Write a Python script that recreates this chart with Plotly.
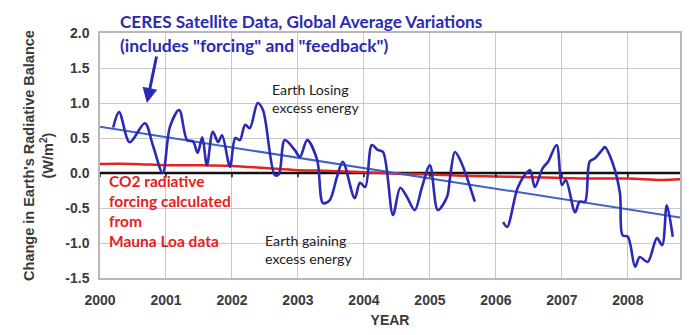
import plotly.graph_objects as go

# CERES satellite data (decimal year, W/m^2); None marks the data gap
ceres_year = [2000.20, 2000.29, 2000.45, 2000.68, 2000.80, 2000.95, 2001.06, 2001.20, 2001.32, 2001.41,
              2001.48, 2001.55, 2001.62, 2001.71, 2001.79, 2001.85, 2001.97, 2002.05, 2002.12, 2002.20,
              2002.27, 2002.39, 2002.47, 2002.65, 2002.71, 2002.80, 2002.95, 2003.03, 2003.14, 2003.29,
              2003.38, 2003.48, 2003.59, 2003.68, 2003.86, 2003.94, 2004.02, 2004.12, 2004.21, 2004.29,
              2004.44, 2004.55, 2004.65, 2004.77, 2004.88, 2005.00, 2005.12, 2005.26, 2005.30, 2005.38,
              2005.48, 2005.68, 2005.85,
              2006.11, 2006.17, 2006.33, 2006.47, 2006.52, 2006.59, 2006.71, 2006.79, 2006.92, 2007.00,
              2007.06, 2007.20, 2007.27, 2007.35, 2007.42, 2007.50, 2007.61, 2007.65, 2007.77, 2007.88,
              2007.92, 2008.00, 2008.11, 2008.18, 2008.30, 2008.44, 2008.52, 2008.59, 2008.68]
ceres_val = [0.65, 0.87, 0.44, 0.71, 0.40, 0.00, 0.66, 0.90, 0.47, 0.45,
             0.29, 0.51, 0.11, 0.59, 0.44, 0.54, 0.09, 0.50, 0.47, 0.69,
             0.64, 1.00, 0.90, -0.03, -0.02, 0.47, 0.33, 0.23, 0.47, 0.19,
             -0.43, -0.39, -0.06, 0.16, -0.36, -0.14, -0.20, 0.40, 0.33, 0.30,
             -0.60, -0.21, -0.34, -0.53, -0.20, 0.11, -0.53, -0.34, -0.10, 0.30,
             0.14, -0.41, None,
             -0.70, -0.77, -0.21, 0.01, 0.04, -0.20, 0.07, 0.16, 0.40, -0.17,
             -0.10, -0.56, -0.41, -0.41, 0.16, 0.21, 0.33, 0.37, 0.14, -0.29,
             -0.89, -0.91, -1.34, -1.20, -1.27, -0.93, -1.03, -0.46, -0.91]

# Linear trend of CERES data
trend_year = [2000.0, 2008.82]
trend_val = [0.66, -0.64]

# CO2 radiative forcing from Mauna Loa data
co2_year = [2000.0, 2000.5, 2001.0, 2001.5, 2002.0, 2002.5, 2003.0, 2003.5, 2004.0, 2004.5,
            2005.0, 2005.5, 2006.0, 2006.5, 2007.0, 2007.5, 2008.0, 2008.5, 2008.8]
co2_val = [0.13, 0.13, 0.11, 0.11, 0.10, 0.07, 0.04, 0.03, 0.01, -0.01,
           -0.02, -0.04, -0.05, -0.06, -0.07, -0.08, -0.08, -0.10, -0.09]

year_ticks = [2000, 2001, 2002, 2003, 2004, 2005, 2006, 2007, 2008]
y_ticks = [-1.5, -1.0, -0.5, 0.0, 0.5, 1.0, 1.5, 2.0]

BLUE = "#2a2ab4"
TREND = "#3f62c6"
RED = "#e42222"
GRID = "#c8c8c8"
TXT = "#3a3a3a"
ANN_FONT = "Lato, Open Sans, sans-serif"
AX_FONT = "Liberation Sans, Arial, sans-serif"

fig = go.Figure()
# zero line
fig.add_trace(go.Scatter(x=[2000, 2008.79], y=[0, 0], mode="lines",
                         line=dict(color="#111111", width=2.5), hoverinfo="skip", showlegend=False))
fig.add_trace(go.Scatter(x=co2_year, y=co2_val, mode="lines",
                         line=dict(color=RED, width=2.5, shape="spline"), showlegend=False))
fig.add_trace(go.Scatter(x=trend_year, y=trend_val, mode="lines",
                         line=dict(color=TREND, width=2), showlegend=False))
fig.add_trace(go.Scatter(x=ceres_year, y=ceres_val, mode="lines", connectgaps=False,
                         line=dict(color=BLUE, width=2.6, shape="spline", smoothing=0.9), showlegend=False))

# small tick marks on the zero line
for yr in year_ticks:
    fig.add_shape(type="line", xref="x", yref="y", x0=yr, x1=yr, y0=0, y1=-0.06,
                  line=dict(color="#111111", width=1.5))

fig.update_xaxes(range=[2000, 2008.79], tickvals=year_ticks, ticktext=["<b>%d</b>" % y for y in year_ticks],
                 showgrid=True, gridcolor=GRID, gridwidth=1.2, zeroline=False,
                 showline=True, linecolor="#b8b8b8", linewidth=1.5, mirror=True, ticks="",
                 ticklabelstandoff=8, automargin=False,
                 tickfont=dict(family=AX_FONT, size=14, color=TXT),
                 title=dict(text="<b>YEAR</b>", font=dict(family=AX_FONT, size=14, color=TXT),
                            standoff=9))
fig.update_yaxes(range=[-1.5, 2.0], tickvals=y_ticks, ticktext=["<b>%.1f</b>" % v for v in y_ticks],
                 showgrid=True, gridcolor=GRID, gridwidth=1.2, zeroline=False,
                 showline=True, linecolor="#b8b8b8", linewidth=1.5, mirror=True, ticks="",
                 ticklabelstandoff=6, automargin=False,
                 tickfont=dict(family=AX_FONT, size=14, color=TXT),
                 title=dict(text="<b>Change in Earth's Radiative Balance<br>(W/m<sup>2</sup>)</b>",
                            font=dict(family=AX_FONT, size=14.5, color=TXT),
                            standoff=8))

fig.add_annotation(xref="paper", yref="paper", x=(118 - 100) / 580, y=(278 - 21) / 245,
                   xanchor="left", yanchor="middle", showarrow=False,
                   text="<b>CERES Satellite Data, Global Average Variations</b>",
                   font=dict(family=ANN_FONT, size=17.2, color=BLUE))
fig.add_annotation(xref="paper", yref="paper", x=(118 - 100) / 580, y=(278 - 45) / 245,
                   xanchor="left", yanchor="middle", showarrow=False,
                   text="<b>(includes \"forcing\" and \"feedback\")</b>",
                   font=dict(family=ANN_FONT, size=17.5, color=BLUE))
# arrow
fig.add_annotation(x=2000.71, y=1.0, xref="x", yref="y", ax=10, ay=-48, text="",
                   showarrow=True, arrowhead=2, arrowsize=1, arrowwidth=3, arrowcolor=BLUE)
fig.add_annotation(x=2002.58, y=1.07, xref="x", yref="y", xanchor="left", yanchor="middle",
                   showarrow=False, align="left",
                   text="Earth Losing<br>excess energy",
                   font=dict(family=ANN_FONT, size=14.2, color="#222222"))
fig.add_annotation(x=2002.47, y=-1.09, xref="x", yref="y", xanchor="left", yanchor="middle",
                   showarrow=False, align="left",
                   text="Earth gaining<br>excess energy",
                   font=dict(family=ANN_FONT, size=14.2, color="#222222"))
fig.add_annotation(x=2000.11, y=-0.54, xref="x", yref="y", xanchor="left", yanchor="middle",
                   showarrow=False, align="left",
                   text="<b>CO2 radiative<br>forcing calculated<br>from<br>Mauna Loa data</b>",
                   font=dict(family=ANN_FONT, size=15.5, color=RED))

fig.update_layout(width=696, height=335, margin=dict(l=100, r=16, t=33, b=57),
                  plot_bgcolor="white", paper_bgcolor="white", showlegend=False)

fig.write_html("out.html")
